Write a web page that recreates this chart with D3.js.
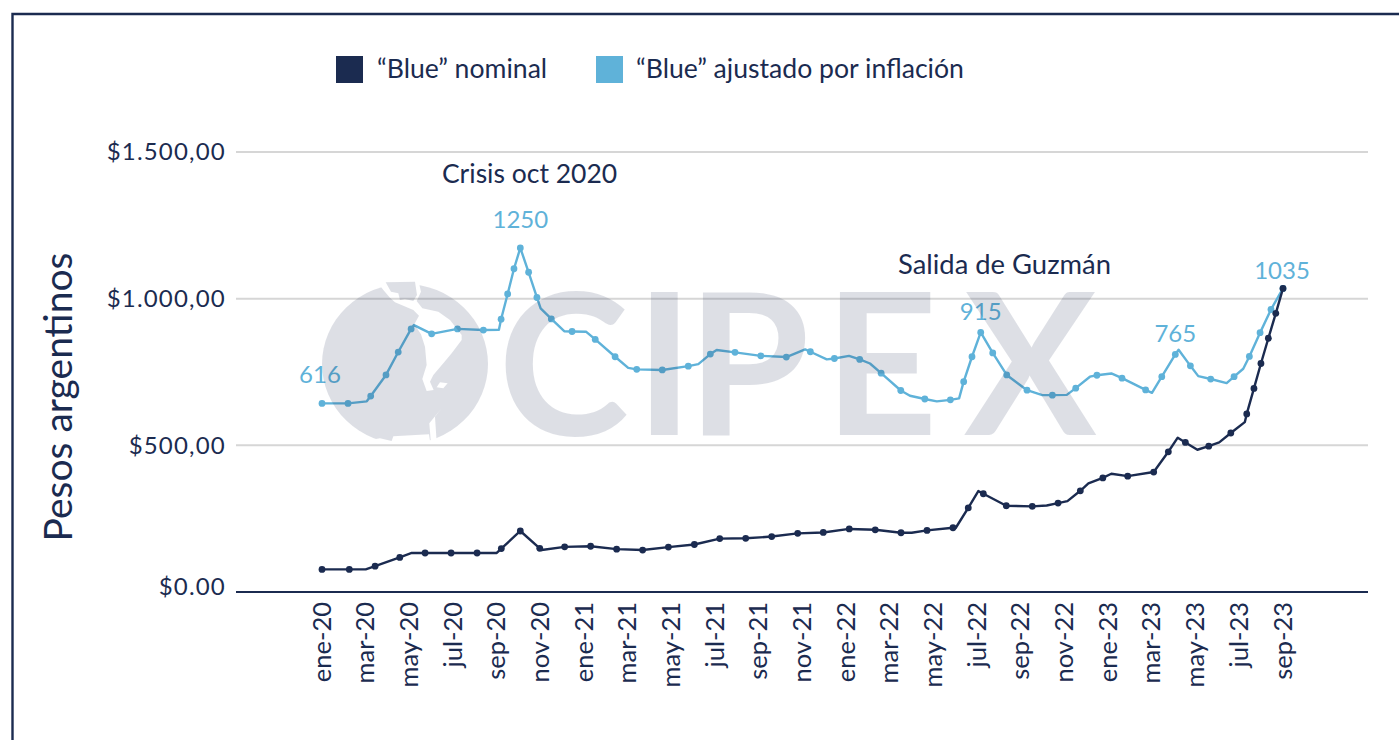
<!DOCTYPE html>
<html><head><meta charset="utf-8">
<script src="https://cdn.jsdelivr.net/npm/d3@7/dist/d3.min.js"></script>
<style>
html,body{margin:0;padding:0;background:#fff;overflow:hidden}
text{font-family:Lato,"Noto Sans",sans-serif}
</style></head><body>
<script>
// x positions are in months since ene-20
const tickLabels = ["ene-20","mar-20","may-20","jul-20","sep-20","nov-20","ene-21","mar-21","may-21","jul-21","sep-21","nov-21","ene-22","mar-22","may-22","jul-22","sep-22","nov-22","ene-23","mar-23","may-23","jul-23","sep-23"];
const yTicks = [0,500,1000,1500];
const yTickLabels = ["$0.00","$500,00","$1.000,00","$1.500,00"];

const realMonths = [0,1.19,2.05,2.23,2.93,3.49,4.08,4.21,5.02,6.20,7.39,8.10,8.20,8.50,8.79,9.08,9.46,9.84,10.01,10.50,11.09,11.45,12.10,12.51,13.42,14.02,14.41,15.58,16.77,17.23,17.78,18.07,18.91,20.09,21.26,22.12,22.36,23.11,23.46,24.13,24.62,25.09,25.60,26.50,26.92,27.60,28.15,28.77,29.17,29.38,29.76,30.16,30.71,31.35,32.28,32.98,33.44,34.10,34.51,35.16,35.48,36.14,36.63,37.71,38.00,38.45,39.07,39.22,39.76,40.12,40.69,41.42,41.76,42.18,42.46,42.95,43.45,44];
const realValues = [643,643,650,668,740,818,897,910,880,897,893,894,930,1016,1102,1173,1090,1004,967,931,889,888,887,861,802,764,759,757,770,777,811,825,817,805,801,827,819,793,796,805,793,779,746,687,669,658,650,655,660,717,802,885,815,740,688,671,671,672,695,734,739,745,729,689,679,734,810,826,771,736,726,712,734,761,803,884,963,1035];
const realDots = [1,1,0,1,1,1,1,0,1,1,1,0,1,1,1,1,1,1,0,1,0,1,0,1,1,0,1,1,1,0,1,0,1,1,1,0,1,0,1,0,1,0,1,1,0,1,0,1,0,1,1,1,1,1,1,0,1,0,1,0,1,0,1,1,0,1,1,0,1,0,1,0,1,0,1,1,1,1];

const nomMonths = [0,1.25,2.00,2.43,3.56,4.11,4.72,5.91,7.10,8.00,8.21,9.08,9.97,10.06,11.11,12.30,13.49,14.68,15.86,17.05,18.21,19.40,20.59,21.78,22.95,24.14,25.33,26.51,27.00,27.70,28.89,29.02,29.59,30.05,30.28,31.33,32.52,33.18,33.70,34.13,34.72,35.09,35.75,36.14,36.89,38.08,38.75,39.18,39.53,40.08,40.60,41.08,41.61,42.25,42.34,42.67,42.99,43.33,43.67,44];
const nomValues = [77,77,77,88,118,133,133,133,133,133,148,208,149,143,154,156,146,143,153,162,182,183,189,200,203,215,212,202,202,210,219,219,287,344,335,294,292,295,303,310,345,370,389,403,395,409,478,526,510,485,497,510,542,579,607,694,779,865,950,1035];
const nomDots = [1,1,0,1,1,0,1,1,1,0,1,1,1,0,1,1,1,1,1,1,1,1,1,1,1,1,1,1,0,1,1,0,1,0,1,1,1,0,1,0,1,0,1,0,1,1,1,0,1,0,1,0,1,0,1,1,1,1,1,1];

const peakMonths = [0,9.08,30.16,39.07,44];
const peakValues = [643,1173,885,810,1035];
const peakLabels = ["616","1250","915","765","1035"];
const legendLabels = ["\u201CBlue\u201D nominal","\u201CBlue\u201D ajustado por inflación"];

const DARK="#1b2b50", LIGHT="#5fb2d9", GRID="#d6d6d6";
const W=1399,H=740;
const x=d3.scaleLinear().domain([0,44]).range([322,1283]);
const y=d3.scaleLinear().domain([0,1500]).range([592,152]);
const svg=d3.select("body").append("svg").attr("width",W).attr("height",H).style("display","block");

// frame
svg.append("path").attr("d",`M${W},14H12.5V${H}`).attr("fill","none").attr("stroke",DARK).attr("stroke-width",2.4);

// gridlines
svg.append("g").selectAll("line").data(yTicks).join("line")
  .attr("x1",236).attr("x2",1368).attr("y1",d=>y(d)).attr("y2",d=>y(d))
  .attr("stroke",d=>d===0?DARK:GRID).attr("stroke-width",d=>d===0?2.2:2);

// axes
const yAxis=svg.append("g").attr("transform","translate(226,0)")
  .call(d3.axisLeft(y).tickValues(yTicks).tickSize(0).tickPadding(0).tickFormat((d,i)=>yTickLabels[i]));
yAxis.select(".domain").remove();
yAxis.selectAll("text").attr("fill",DARK).attr("font-size",24).style("font-family","Lato").attr("letter-spacing",1.2)
  .attr("dy",(d)=>d===0?"0.1em":"0.32em");

const xAxis=svg.append("g").attr("transform","translate(0,602)")
  .call(d3.axisBottom(x).tickValues(tickLabels.map((_,i)=>i*2)).tickSize(0).tickPadding(0).tickFormat((d,i)=>tickLabels[i]));
xAxis.select(".domain").remove();
xAxis.selectAll("text").attr("fill",DARK).attr("font-size",25.5).style("font-family","Lato")
  .attr("text-anchor","end").attr("dy",0).attr("y",0)
  .attr("transform",()=>`translate(8,0) rotate(-90)`).attr("x",0);

svg.append("text").attr("transform","translate(72,397) rotate(-90)").attr("text-anchor","middle")
  .attr("font-size",39).attr("fill",DARK).text("Pesos argentinos");

// legend
const lg=svg.append("g");
[[336,377,DARK],[596,636,LIGHT]].forEach((p,i)=>{
  lg.append("rect").attr("x",p[0]).attr("y",56).attr("width",27).attr("height",27).attr("fill",p[2]);
  lg.append("text").attr("x",p[1]).attr("y",78).attr("font-size",26.6).attr("fill",DARK).text(legendLabels[i]);
});

// series
function series(months,values,dots,color){
  const pts=months.map((m,i)=>({m,v:values[i],dot:dots[i]}));
  const g=svg.append("g");
  g.append("path").datum(pts).attr("fill","none").attr("stroke",color).attr("stroke-width",2.4).attr("stroke-linejoin","round")
   .attr("d",d3.line().x(d=>x(d.m)).y(d=>y(d.v)));
  g.selectAll("circle").data(pts.filter(d=>d.dot)).join("circle")
   .attr("cx",d=>x(d.m)).attr("cy",d=>y(d.v)).attr("r",3.4).attr("fill",color);
}
series(realMonths,realValues,realDots,LIGHT);
series(nomMonths,nomValues,nomDots,DARK);

// annotations
const peakLift=[20,20,12,12,9];
svg.append("g").selectAll("text").data(peakLabels).join("text")
  .attr("x",(d,i)=>x(peakMonths[i])+(i===4?-1:i===0?-2:0)).attr("y",(d,i)=>y(peakValues[i])-peakLift[i])
  .attr("text-anchor","middle").attr("font-size",24).attr("fill",LIGHT).text(d=>d);
svg.append("text").attr("x",442).attr("y",183).attr("font-size",26.5).attr("fill",DARK).text("Crisis oct 2020");
svg.append("text").attr("x",898).attr("y",274).attr("font-size",27.4).attr("fill",DARK).text("Salida de Guzmán");

// watermark on top of the chart
const WM="#1b2b50", WMO=0.15;
const defs=svg.append("defs");
const mask=defs.append("mask").attr("id","globe").attr("maskUnits","userSpaceOnUse").attr("x",0).attr("y",0).attr("width",W).attr("height",H);
mask.append("rect").attr("width",W).attr("height",H).attr("fill","#000");
mask.append("ellipse").attr("cx",405).attr("cy",364).attr("rx",83).attr("ry",80).attr("fill","#fff");
const mg=mask.append("g").attr("transform","translate(315,275) scale(0.3333)");
const shapes=[
 ["#000","190,25 310,15 318,50 305,78 322,100 370,110 405,135 440,180 440,195 410,235 385,265 355,300 345,320 356,345 335,348 322,312 335,270 330,215 318,178 298,148 312,122 295,105 240,82 225,68 205,45"],
 ["#fff","212,22 300,20 306,60 295,78 270,72 255,75 250,55 228,50"],
 ["#000","365,337 375,322 398,325 385,340"],
 ["#000","350,530 343,445 380,400 360,425 365,500 420,530"],
 ["#000","165,495 195,490 230,498 235,484 342,478 350,530 165,530"]
];
shapes.forEach(s=>mg.append("polygon").attr("points",s[1]).attr("fill",s[0]));
svg.append("rect").attr("x",300).attr("y",270).attr("width",200).attr("height",190)
   .attr("fill",WM).attr("fill-opacity",WMO).attr("mask","url(#globe)");
svg.append("text").attr("x","498 635 687 824 964").attr("y",435)
  .attr("font-size",198).attr("font-weight",700).attr("fill",WM).attr("fill-opacity",WMO).text("CIPEX");
</script>
</body></html>
